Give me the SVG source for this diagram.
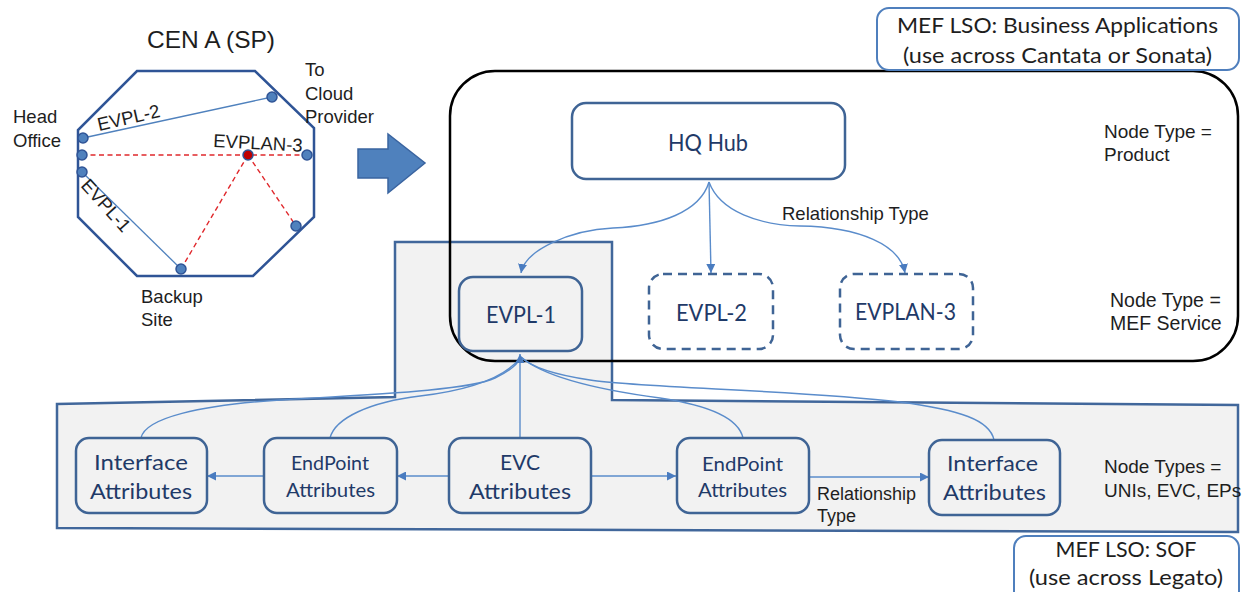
<svg xmlns="http://www.w3.org/2000/svg" width="1250" height="592" viewBox="0 0 1250 592">
<style>
.lbl{font-family:"Liberation Sans",Arial,sans-serif;fill:#1e1e1e}
.nl{font-family:Lato,"Open Sans",sans-serif;fill:#1f3a68;text-anchor:middle}
.node{fill:none;stroke:#3f6495;stroke-width:2.5}
.dash{fill:none;stroke:#3f6495;stroke-width:2.5;stroke-dasharray:9 6}
.mef{fill:#fff;stroke:#4f7fbd;stroke-width:2}
.conn{fill:none;stroke:#5a8ccb;stroke-width:1.4}
.oct{fill:none;stroke:#2f5496;stroke-width:2.5}
.dot{fill:#4f81bd;stroke:#2f5496;stroke-width:1.5}
.red{fill:none;stroke:#e0282c;stroke-width:1.4;stroke-dasharray:5 3.5}
.bl{fill:none;stroke:#4f81bd;stroke-width:1.3}
</style>
<defs>
<marker id="ah" markerUnits="userSpaceOnUse" markerWidth="9" markerHeight="9" viewBox="0 0 10 10" refX="10" refY="5" orient="auto">
<path d="M0,0 L10,5 L0,10 z" fill="#4a7cc0"/>
</marker>
</defs>
<rect width="1250" height="592" fill="#fff"/>

<!-- background regions -->
<polygon id="sof-region" points="57,404 395,397 395,242 612,242 612,400 1238,405 1238,532 57,528" fill="#f2f2f2" stroke="#41679b" stroke-width="2.5"/>
<rect id="lso-region" x="450" y="71" width="788" height="290" rx="45" fill="none" stroke="#000" stroke-width="2.5"/>

<g id="mef-ba">
<rect class="mef" x="877" y="8" width="362" height="62" rx="12"/>
<text class="nl" x="1057.5" y="33" font-size="22" textLength="321" lengthAdjust="spacingAndGlyphs" style="fill:#1e1e1e">MEF LSO: Business Applications</text>
<text class="nl" x="1057.5" y="63" font-size="22" textLength="309" lengthAdjust="spacingAndGlyphs" style="fill:#1e1e1e">(use across Cantata or Sonata)</text>
</g>
<g id="mef-sof">
<rect class="mef" x="1014" y="536" width="225" height="70" rx="12"/>
<text class="nl" x="1126" y="557" font-size="22" textLength="141" lengthAdjust="spacingAndGlyphs" style="fill:#1e1e1e">MEF LSO: SOF</text>
<text class="nl" x="1126" y="585" font-size="22" textLength="194" lengthAdjust="spacingAndGlyphs" style="fill:#1e1e1e">(use across Legato)</text>
</g>

<!-- CEN A network sketch -->
<g id="cen">
<text class="lbl" x="211" y="48" font-size="24.5" text-anchor="middle">CEN A (SP)</text>
<polygon class="oct" points="137,71 255,71 314,128 314,217 253,276 137,276 78,217 78,130"/>
<line class="bl" x1="83" y1="138" x2="272" y2="97"/>
<line class="bl" x1="82" y1="172" x2="181" y2="269"/>
<line class="red" x1="82" y1="155" x2="307" y2="155"/>
<line class="red" x1="248" y1="155" x2="181" y2="269"/>
<line class="red" x1="248" y1="155" x2="296" y2="226"/>
<circle class="dot" cx="83" cy="138" r="5"/>
<circle class="dot" cx="82" cy="155" r="5"/>
<circle class="dot" cx="82" cy="172" r="5"/>
<circle class="dot" cx="272" cy="97" r="5"/>
<circle class="dot" cx="307" cy="155" r="5"/>
<circle class="dot" cx="296" cy="226" r="5"/>
<circle class="dot" cx="181" cy="269" r="5"/>
<circle cx="248" cy="155" r="5" fill="#c00000" stroke="#2f5496" stroke-width="1.5"/>
<text class="lbl" x="13" y="123" font-size="18.5">Head</text>
<text class="lbl" x="13" y="147" font-size="18.5">Office</text>
<text class="lbl" x="305" y="76" font-size="18.5">To</text>
<text class="lbl" x="305" y="100" font-size="18.5">Cloud</text>
<text class="lbl" x="305" y="123" font-size="18.5">Provider</text>
<text class="lbl" x="141" y="303" font-size="18.5">Backup</text>
<text class="lbl" x="141" y="326" font-size="18.5">Site</text>
<text class="lbl" x="213" y="147" font-size="18.5" transform="rotate(3 213 147)">EVPLAN-3</text>
<text class="lbl" x="99" y="131" font-size="18.5" transform="rotate(-13 99 131)">EVPL-2</text>
<text class="lbl" x="80" y="186" font-size="18.5" transform="rotate(48 80 186)">EVPL-1</text>
</g>

<g id="big-arrow">
<polygon points="358,149 388,149 388,134 425,163 388,193 388,178 358,178" fill="#4f81bd" stroke="#3a64a0" stroke-width="1.5"/>
</g>

<!-- connectors -->
<g id="connectors">
<path class="conn" d="M709,182 C700,212 660,226 613,228 C570,230 525,250 521,273" marker-end="url(#ah)"/>
<path class="conn" d="M709,182 L711,273" marker-end="url(#ah)"/>
<path class="conn" d="M709,182 C720,212 760,225 800,226 C860,227 900,245 905,273" marker-end="url(#ah)"/>
<path class="conn" d="M141,438 C145,418 200,405 280,400 C380,394 470,390 495,378 C510,371 518,364 521,357"/>
<path class="conn" d="M330,438 C335,418 370,402 420,396 C470,390 505,378 521,357"/>
<path class="conn" d="M743,438 C738,415 700,404 660,398 C600,390 545,378 521,357"/>
<path class="conn" d="M994,440 C990,420 960,410 900,402 C800,390 640,388 590,380 C550,374 530,366 521,357"/>
<path class="conn" d="M520,438 L520,354" marker-end="url(#ah)"/>
<path class="conn" d="M264,476 L207,476" marker-end="url(#ah)"/>
<path class="conn" d="M449,476 L397,476" marker-end="url(#ah)"/>
<path class="conn" d="M591,476 L676,476" marker-end="url(#ah)"/>
<path class="conn" d="M809,477 L929,477" marker-end="url(#ah)"/>
</g>

<!-- labels -->
<text class="lbl" x="782" y="220" font-size="18.5">Relationship Type</text>
<text class="lbl" x="1104" y="138" font-size="19">Node Type =</text>
<text class="lbl" x="1104" y="161" font-size="19">Product</text>
<text class="lbl" x="1110" y="307" font-size="19.5">Node Type =</text>
<text class="lbl" x="1110" y="330" font-size="19.5">MEF Service</text>
<text class="lbl" x="817" y="500" font-size="18">Relationship</text>
<text class="lbl" x="817" y="522" font-size="18">Type</text>
<text class="lbl" x="1104" y="473" font-size="19">Node Types =</text>
<text class="lbl" x="1104" y="497" font-size="19">UNIs, EVC, EPs</text>

<!-- nodes -->
<g id="hq-hub">
<rect class="node" x="572" y="103" width="273" height="76" rx="14"/>
<text class="nl" x="708" y="151" font-size="23" textLength="80" lengthAdjust="spacingAndGlyphs">HQ Hub</text>
</g>
<g id="evpl-1">
<rect class="node" x="459" y="277" width="123" height="74" rx="14"/>
<text class="nl" x="521" y="323" font-size="23" textLength="70" lengthAdjust="spacingAndGlyphs">EVPL-1</text>
</g>
<g id="evpl-2">
<rect class="dash" x="649" y="274" width="124" height="75" rx="14"/>
<text class="nl" x="711.5" y="321" font-size="23" textLength="71" lengthAdjust="spacingAndGlyphs">EVPL-2</text>
</g>
<g id="evplan-3">
<rect class="dash" x="840" y="274" width="133" height="75" rx="14"/>
<text class="nl" x="905.5" y="320" font-size="23" textLength="101" lengthAdjust="spacingAndGlyphs">EVPLAN-3</text>
</g>
<g id="if-left">
<rect class="node" x="76" y="438" width="131" height="75" rx="13"/>
<text class="nl" x="141" y="470" font-size="22" textLength="94" lengthAdjust="spacingAndGlyphs">Interface</text>
<text class="nl" x="141" y="499" font-size="22" textLength="102" lengthAdjust="spacingAndGlyphs">Attributes</text>
</g>
<g id="ep-left">
<rect class="node" x="264" y="438" width="133" height="75" rx="13"/>
<text class="nl" x="330" y="470" font-size="19" textLength="78" lengthAdjust="spacingAndGlyphs">EndPoint</text>
<text class="nl" x="330.5" y="497" font-size="19" textLength="89" lengthAdjust="spacingAndGlyphs">Attributes</text>
</g>
<g id="evc">
<rect class="node" x="449" y="438" width="142" height="75" rx="13"/>
<text class="nl" x="520" y="470" font-size="22" textLength="40" lengthAdjust="spacingAndGlyphs">EVC</text>
<text class="nl" x="520" y="499" font-size="22" textLength="102" lengthAdjust="spacingAndGlyphs">Attributes</text>
</g>
<g id="ep-right">
<rect class="node" x="677" y="438" width="132" height="75" rx="13"/>
<text class="nl" x="742.5" y="471" font-size="19" textLength="81" lengthAdjust="spacingAndGlyphs">EndPoint</text>
<text class="nl" x="742.5" y="497" font-size="19" textLength="89" lengthAdjust="spacingAndGlyphs">Attributes</text>
</g>
<g id="if-right">
<rect class="node" x="929" y="440" width="131" height="75" rx="13"/>
<text class="nl" x="992.5" y="471" font-size="22" textLength="91" lengthAdjust="spacingAndGlyphs">Interface</text>
<text class="nl" x="994.5" y="500" font-size="22" textLength="103" lengthAdjust="spacingAndGlyphs">Attributes</text>
</g>
</svg>
